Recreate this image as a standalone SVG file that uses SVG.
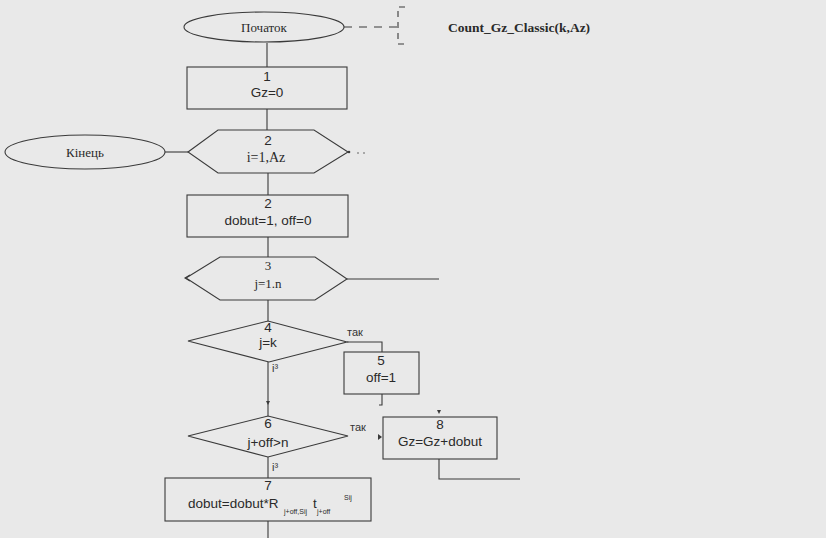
<svg xmlns="http://www.w3.org/2000/svg" width="826" height="538" viewBox="0 0 826 538">
<style>
.s{fill:none;stroke:#3a3a3a;stroke-width:1.1}
.c{fill:none;stroke:#3a3a3a;stroke-width:1.1}
.ser{font-family:"Liberation Serif","Times New Roman",serif;font-size:13px;fill:#2a2a2a}
.san{font-family:"Liberation Sans",Arial,sans-serif;font-size:13.5px;fill:#2a2a2a}
.lbl{font-family:"Liberation Sans",Arial,sans-serif;font-size:11px;fill:#333}
.sub{font-family:"Liberation Sans",Arial,sans-serif;font-size:7px;fill:#2a2a2a}
.ttl{font-family:"Liberation Serif","Times New Roman",serif;font-size:13.5px;font-weight:bold;fill:#2a2a2a}
</style>
<rect x="0" y="0" width="826" height="538" fill="#e9e9e9"/>
<g id="connectors">
<line class="c" x1="344" y1="27" x2="398" y2="27" stroke-dasharray="8,7"/>
<path class="c" d="M405,7 H398 V44 H405" stroke-dasharray="6,5"/>
<line class="c" x1="267" y1="43" x2="267" y2="67"/>
<line class="c" x1="267" y1="109" x2="267" y2="130"/>
<line class="c" x1="165" y1="152" x2="188" y2="152"/>
<line class="c" x1="268" y1="173" x2="268" y2="195"/>
<line class="c" x1="268" y1="237" x2="268" y2="257"/>
<line class="c" x1="347" y1="279" x2="439" y2="279"/>
<line class="c" x1="268" y1="300" x2="268" y2="321"/>
<path class="c" d="M347,342 H382 V352"/>
<path class="c" d="M382,394 V405 H379"/>
<line class="c" x1="268" y1="362" x2="268" y2="416"/>
<path d="M266,401 L268,405 L270,401 Z" fill="#3a3a3a"/>
<path d="M437,410 L439,414 L441,410 Z" fill="#3a3a3a"/>
<path d="M378,434 L382,437 L378,440 Z" fill="#3a3a3a"/>
<path class="c" d="M439,459 V479 H520"/>
<line class="c" x1="268" y1="457" x2="268" y2="478"/>
<line class="c" x1="268" y1="521" x2="268" y2="538"/>
<circle cx="349" cy="152" r="1.3" fill="#3a3a3a"/>
<circle cx="358" cy="153" r="0.8" fill="#555"/>
<circle cx="364" cy="153" r="0.8" fill="#555"/>
<path class="c" d="M190,275 L185,278 L190,281"/>
<text class="lbl" x="347" y="336">так</text>
<text class="lbl" x="350" y="431">так</text>
<text class="lbl" x="272" y="372">і³</text>
<text class="lbl" x="272" y="471">і³</text>
</g>
<g id="start">
<ellipse class="s" cx="264" cy="27" rx="80" ry="15"/>
<text class="ser" x="264" y="31.5" text-anchor="middle">Початок</text>
</g>
<g id="title">
<text class="ttl" x="448" y="32">Count_Gz_Classic(k,Az)</text>
</g>
<g id="b1">
<rect class="s" x="187" y="67" width="160" height="42"/>
<text class="san" x="267" y="81" text-anchor="middle">1</text>
<text class="san" x="267" y="97" text-anchor="middle">Gz=0</text>
</g>
<g id="end">
<ellipse class="s" cx="85" cy="152" rx="80" ry="17"/>
<text class="ser" x="85" y="156.5" text-anchor="middle">Кінець</text>
</g>
<g id="h2">
<polygon class="s" points="188,152 218,130 314,130 348,152 314,173 218,173"/>
<text class="san" x="268" y="145" text-anchor="middle">2</text>
<text class="ser" x="266" y="162" text-anchor="middle" style="font-size:14px">i=1,Az</text>
</g>
<g id="b2">
<rect class="s" x="187" y="195" width="161" height="42"/>
<text class="san" x="268" y="208" text-anchor="middle">2</text>
<text class="san" x="268" y="225" text-anchor="middle">dobut=1, off=0</text>
</g>
<g id="h3">
<polygon class="s" points="186,278 220,257 315,257 347,279 315,300 220,300"/>
<text class="ser" x="268" y="270" text-anchor="middle">3</text>
<text class="ser" x="268" y="288" text-anchor="middle">j=1.n</text>
</g>
<g id="d4">
<polygon class="s" points="188,341 268,321 347,342 269,362"/>
<text class="san" x="268" y="332" text-anchor="middle">4</text>
<text class="san" x="268" y="347" text-anchor="middle">j=k</text>
</g>
<g id="b5">
<rect class="s" x="344" y="352" width="75" height="42"/>
<text class="san" x="381" y="365" text-anchor="middle">5</text>
<text class="san" x="381" y="382" text-anchor="middle">off=1</text>
</g>
<g id="d6">
<polygon class="s" points="188,436 268,416 348,436 268,457"/>
<text class="san" x="268" y="428" text-anchor="middle">6</text>
<text class="san" x="268" y="447" text-anchor="middle">j+off&gt;n</text>
</g>
<g id="b8">
<rect class="s" x="383" y="417" width="114" height="42"/>
<text class="san" x="440" y="429" text-anchor="middle">8</text>
<text class="san" x="440" y="446" text-anchor="middle">Gz=Gz+dobut</text>
</g>
<g id="b7">
<rect class="s" x="165" y="478" width="206" height="43"/>
<text class="san" x="268" y="490" text-anchor="middle">7</text>
<text class="san" x="188" y="508">dobut=dobut*R</text>
<text class="sub" x="284" y="514">j+off,Sij</text>
<text class="san" x="313" y="508">t</text>
<text class="sub" x="317" y="514">j+off</text>
<text class="sub" x="344" y="500">Sij</text>
</g>
</svg>
